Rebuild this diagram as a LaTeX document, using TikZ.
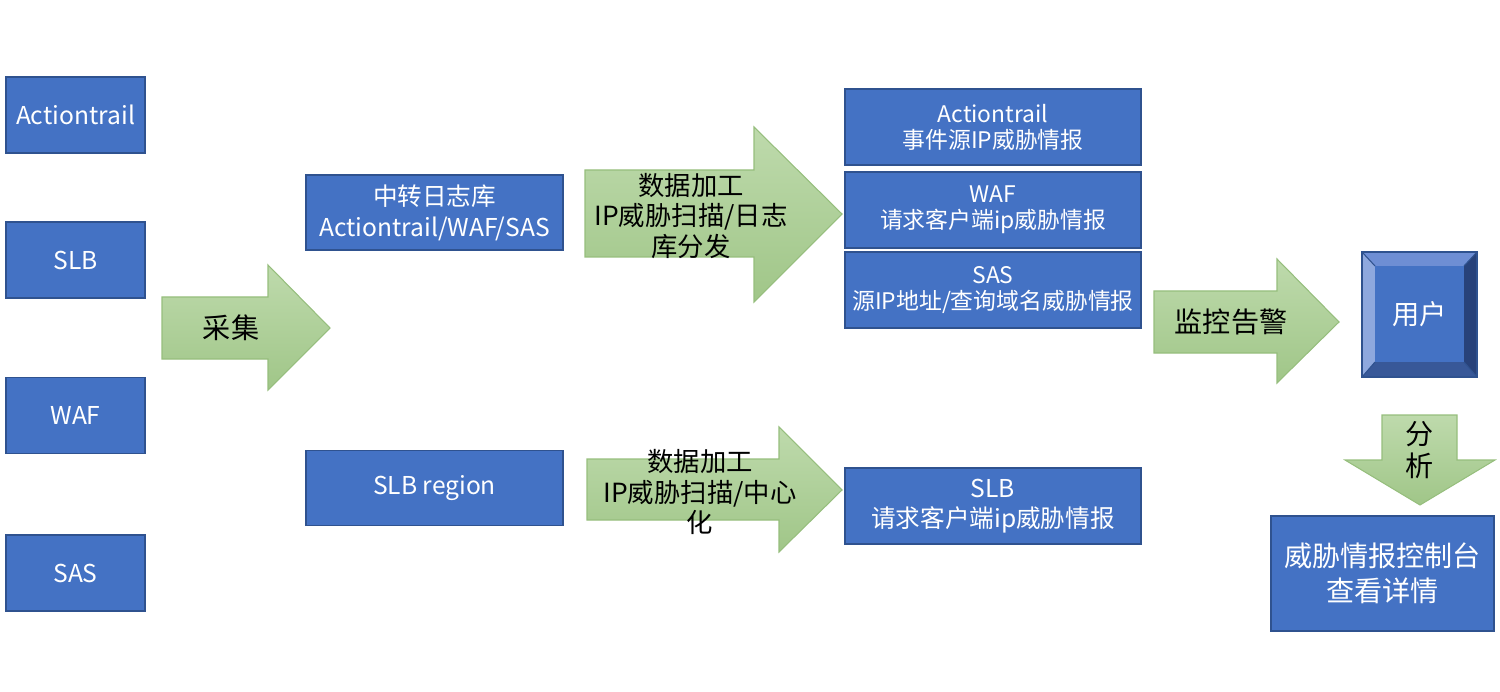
\documentclass[tikz,border=0pt]{standalone}
\usepackage{fontspec}
\setmainfont{Noto Sans CJK SC}
\usepackage{xcolor}
\definecolor{boxblue}{RGB}{68,114,196}
\definecolor{boxline}{RGB}{47,82,143}
\definecolor{gtop}{RGB}{190,218,172}
\definecolor{gbot}{RGB}{160,198,136}
\definecolor{gline}{RGB}{150,190,125}
\definecolor{bevtop}{RGB}{110,142,212}
\definecolor{bevleft}{RGB}{142,168,222}
\definecolor{bevright}{RGB}{40,66,122}
\definecolor{bevbot}{RGB}{56,88,152}

\begin{document}
\begin{tikzpicture}[
      x=0.02cm, y=-0.02cm,
      box/.style={draw=boxline, line width=0.8pt, fill=boxblue, text=white, inner sep=0pt, align=center},
      src/.style={box, minimum width=2.78cm, minimum height=1.52cm, font=\fontsize{14}{17.6}\selectfont},
      relay/.style={box, minimum width=5.14cm, minimum height=1.5cm, font=\fontsize{14}{17.6}\selectfont},
      intel/.style={box, minimum width=5.92cm, minimum height=1.52cm, font=\fontsize{13}{14.8}\selectfont},
      garrow/.style={draw=gline, line width=0.6pt, top color=gtop, bottom color=gbot},
      alabel/.style={align=center, inner sep=0pt, font=\fontsize{16}{18}\selectfont},
      plabel/.style={align=center, inner sep=0pt, font=\fontsize{15}{17.6}\selectfont}
    ]
    \useasboundingbox (0,0) rectangle (1500,692);

    \node[src] (at) at (75.5,115) {Actiontrail};
    \node[src] (slb) at (75.5,260) {SLB};
    \node[src] (waf) at (75.5,415.5) {WAF};
    \node[src] (sas) at (75.5,573) {SAS};

    \draw[garrow] (162,297) -- (268,297) -- (268,265) -- (330,328) -- (268,390) -- (268,359) -- (162,359) -- cycle;
    \node[alabel] (collect) at (231,328) {采集};

    \node[relay] (relaylog) at (434.5,212.5) {中转日志库\\Actiontrail/WAF/SAS};
    \node[relay] (slbreg) at (434.5,488) {SLB region};

    \draw[garrow] (585,170) -- (754,170) -- (754,127) -- (842,214) -- (754,302) -- (754,257) -- (585,257) -- cycle;
    \node[plabel] (proc) at (691,216) {数据加工\\IP威胁扫描/日志\\库分发};

    \draw[garrow] (587,459) -- (779,459) -- (779,427) -- (842,490) -- (779,552) -- (779,520) -- (587,520) -- cycle;
    \node[plabel] (proc2) at (700,492) {数据加工\\IP威胁扫描/中心\\化};

    \node[intel] (atintel) at (993,127) {Actiontrail\\事件源IP威胁情报};
    \node[intel] (wafintel) at (993,210) {WAF\\请求客户端ip威胁情报};
    \node[intel] (sasintel) at (993,290) {SAS\\源IP地址/查询域名威胁情报};
    \node[intel, font=\fontsize{14}{17}\selectfont] (slbintel) at (993,506) {SLB\\请求客户端ip威胁情报};

    \draw[garrow] (1154,291) -- (1277,291) -- (1277,259) -- (1339,322) -- (1277,383) -- (1277,353) -- (1154,353) -- cycle;
    \node[alabel] (alert) at (1231,322) {监控告警};

    \fill[bevtop] (1362,252) -- (1477,252) -- (1464,266) -- (1375,266) -- cycle;
    \fill[bevleft] (1362,252) -- (1375,266) -- (1375,362) -- (1362,377) -- cycle;
    \fill[bevright] (1477,252) -- (1477,377) -- (1464,362) -- (1464,266) -- cycle;
    \fill[bevbot] (1362,377) -- (1375,362) -- (1464,362) -- (1477,377) -- cycle;
    \fill[boxblue] (1375,266) rectangle (1464,362);
    \draw[boxline, line width=0.6pt] (1362,252) -- (1375,266) (1477,252) -- (1464,266) (1362,377) -- (1375,362) (1477,377) -- (1464,362);
    \node[draw=boxline, line width=0.8pt, minimum width=2.3cm, minimum height=2.5cm, text=white, font=\fontsize{15.5}{18}\selectfont] (user) at (1419.5,314.5) {用户};

    \draw[garrow] (1382,415) -- (1457,415) -- (1457,460) -- (1495,460) -- (1420,505) -- (1345,460) -- (1382,460) -- cycle;
    \node[alabel, font=\fontsize{16}{18.5}\selectfont] (analyze) at (1420,450) {分\\析};

    \node[box, minimum width=4.46cm, minimum height=2.3cm, font=\fontsize{16}{19.8}\selectfont] (console) at (1382.5,573.5) {威胁情报控制台\\查看详情};
  \end{tikzpicture}
\end{document}
